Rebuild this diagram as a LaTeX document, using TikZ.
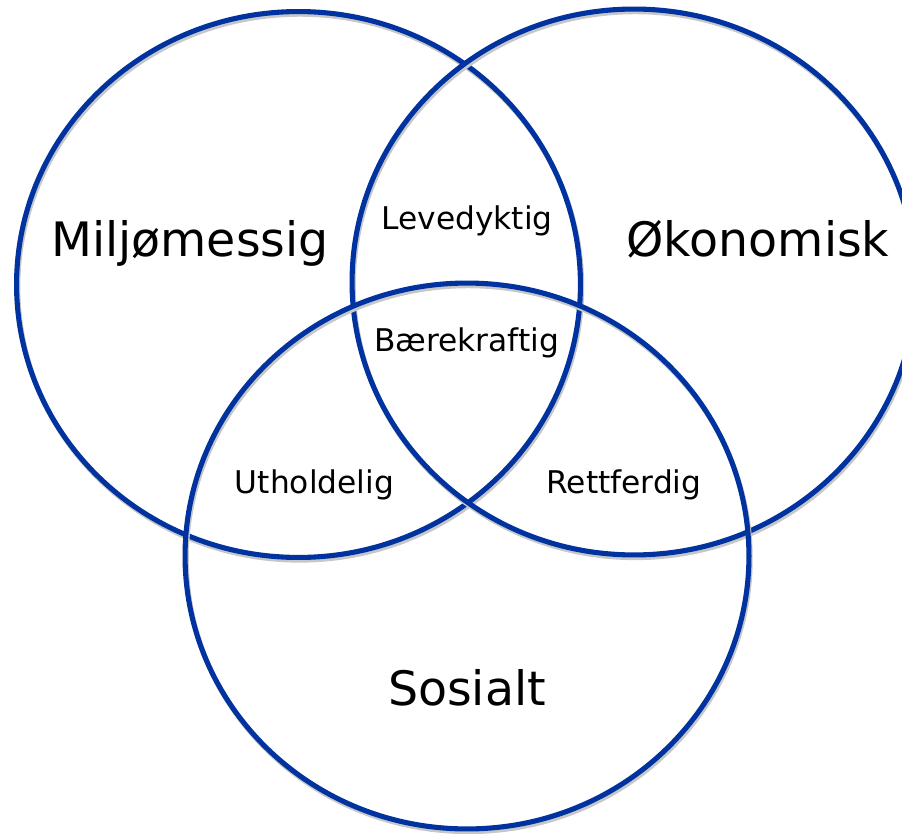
\documentclass[tikz,border=0pt]{standalone}
\usepackage{fontspec}
\setmainfont{DejaVu Sans}
\usetikzlibrary{shapes}
\definecolor{venblaa}{RGB}{0,51,160}
\tikzset{
  sirkel/.style={draw=venblaa, line width=2.9pt, ellipse, minimum width=11.28cm, minimum height=10.92cm,
    preaction={draw=black!22, line width=2.9pt, transform canvas={xshift=0.7pt, yshift=-1.5pt}}},
  stor/.style={anchor=base, font=\fontsize{27}{32}\selectfont},
  liten/.style={anchor=base, font=\fontsize{17.8}{21}\selectfont}
}

\begin{document}
\begin{tikzpicture}[x=0.02cm, y=-0.02cm]
\useasboundingbox (0,0) rectangle (902,834);
\clip (0,0) rectangle (902,834);
\node [sirkel](miljo) at (298.5,284.5){};
\node [sirkel](okonomi) at (634,282){};
\node [sirkel](sosial) at (467,556){};
\node [stor](tmiljo) at (190,257){Miljømessig};
\node [stor](tokonomi) at (758,257){Økonomisk};
\node [stor](tsosial) at (467,705){Sosialt};
\node [liten](tleve) at (467,230){Levedyktig};
\node [liten](tbaere) at (466.5,352){Bærekraftig};
\node [liten](tuthold) at (314.5,493){Utholdelig};
\node [liten](trett) at (624,493){Rettferdig};
\end{tikzpicture}
\end{document}
